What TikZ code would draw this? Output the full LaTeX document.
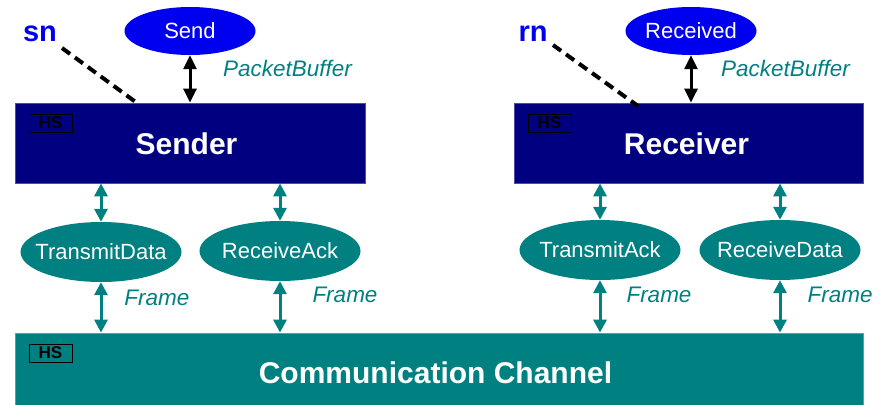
\documentclass[tikz,border=0pt]{standalone}
\usepackage{fontspec}
\setmainfont{Liberation Sans}
\usetikzlibrary{shapes.geometric,arrows.meta}
\definecolor{navy}{HTML}{000080}
\definecolor{tealc}{HTML}{008080}
\definecolor{bluec}{HTML}{0000F0}
\newcommand{\zw}[1]{\makebox[0pt]{#1}}
\tikzset{
  bigbox/.style={draw=#1!70!white, line width=0.8pt, fill=#1, text=white, inner sep=0pt, font=\fontsize{30}{34}\selectfont\bfseries},
  hsbox/.style={draw=black, line width=1pt, minimum width=43pt, minimum height=18pt, inner sep=0pt, font=\fontsize{17}{18}\selectfont\bfseries, text=black},
  blueell/.style={ellipse, fill=bluec, text=white, minimum width=131pt, minimum height=48pt, inner sep=0pt, font=\fontsize{22}{24}\selectfont},
  tealell/.style={ellipse, fill=tealc, text=white, minimum width=161pt, minimum height=60pt, inner sep=0pt, font=\fontsize{22}{24}\selectfont},
  lbl/.style={text=tealc, font=\fontsize{22.5}{24}\selectfont\itshape, inner sep=0pt},
  varlbl/.style={text=bluec, font=\fontsize{29}{32}\selectfont\bfseries, inner sep=0pt},
  tarrow/.style={draw=tealc, line width=3pt, {Triangle[width=13pt,length=13pt]}-{Triangle[width=13pt,length=13pt]}},
  barrow/.style={draw=black, line width=3pt, {Triangle[width=13pt,length=14pt]}-{Triangle[width=13pt,length=14pt]}},
  dashline/.style={draw=black, line width=4pt, dash pattern=on 10pt off 6pt}
}
\begin{document}
\begin{tikzpicture}[x=1pt,y=-1pt]
\useasboundingbox (0,0) rectangle (888,404);
% big boxes
\node[bigbox=navy, minimum width=350pt, minimum height=80pt] (sender) at (190,143) {};
\node[bigbox=navy, minimum width=349pt, minimum height=80pt] (receiver) at (688.5,143) {};
\node[bigbox=tealc, minimum width=848pt, minimum height=72pt] (channel) at (439,369) {};
\node[text=white, font=\fontsize{30}{34}\selectfont\bfseries, inner sep=0pt] (sendert) at (186.5,144) {Sender};
\node[text=white, font=\fontsize{30}{34}\selectfont\bfseries, inner sep=0pt] (receivert) at (686.5,144) {Receiver};
\node[text=white, font=\fontsize{30}{34}\selectfont\bfseries, inner sep=0pt] (channelt) at (435.5,373) {Communication Channel};
% HS boxes
\node[hsbox] (hs1) at (50.5,123) {\raisebox{-2.5pt}{HS}};
\node[hsbox] (hs2) at (549.5,123) {\raisebox{-2.5pt}{HS}};
\node[hsbox] (hs3) at (50.5,353) {\raisebox{-1pt}{HS}};
% top ellipses
\node[blueell] (send) at (190,31) {\zw{Send}};
\node[blueell] (received) at (691,31) {\zw{Received}};
% teal ellipses
\node[tealell] (td) at (101,252) {\zw{TransmitData}};
\node[tealell] (ra) at (280,251) {\zw{ReceiveAck}};
\node[tealell] (ta) at (600,250) {\zw{TransmitAck}};
\node[tealell] (rd) at (780,250) {\zw{ReceiveData}};
% variable labels
\node[varlbl] (sn) at (40,34) {sn};
\node[varlbl] (rn) at (533,34) {rn};
\coordinate (snstart) at (62,48);
\coordinate (snend) at (137,103);
\coordinate (rnstart) at (553,45);
\coordinate (rnend) at (638,106);
\draw[dashline] (snstart) -- (snend);
\draw[dashline] (rnstart) -- (rnend);
% black arrows
\draw[barrow] (send.south) -- (send.south |- sender.north);
\draw[barrow] (received.south) -- (received.south |- receiver.north);
% labels
\node[lbl] (pb1) at (287.5,68) {PacketBuffer};
\node[lbl] (pb2) at (785.5,68) {PacketBuffer};
\node[lbl] (f1) at (157,298) {Frame};
\node[lbl] (f2) at (345,295) {Frame};
\node[lbl] (f3) at (659,295) {Frame};
\node[lbl] (f4) at (840,295) {Frame};
% teal arrows
\draw[tarrow] (td.north |- sender.south) -- (td.north);
\draw[tarrow] (ra.north |- sender.south) -- (ra.north);
\draw[tarrow] (ta.north |- receiver.south) -- (ta.north);
\draw[tarrow] (rd.north |- receiver.south) -- (rd.north);
\draw[tarrow] (td.south) -- (td.south |- channel.north);
\draw[tarrow] (ra.south) -- (ra.south |- channel.north);
\draw[tarrow] (ta.south) -- (ta.south |- channel.north);
\draw[tarrow] (rd.south) -- (rd.south |- channel.north);
\end{tikzpicture}
\end{document}
